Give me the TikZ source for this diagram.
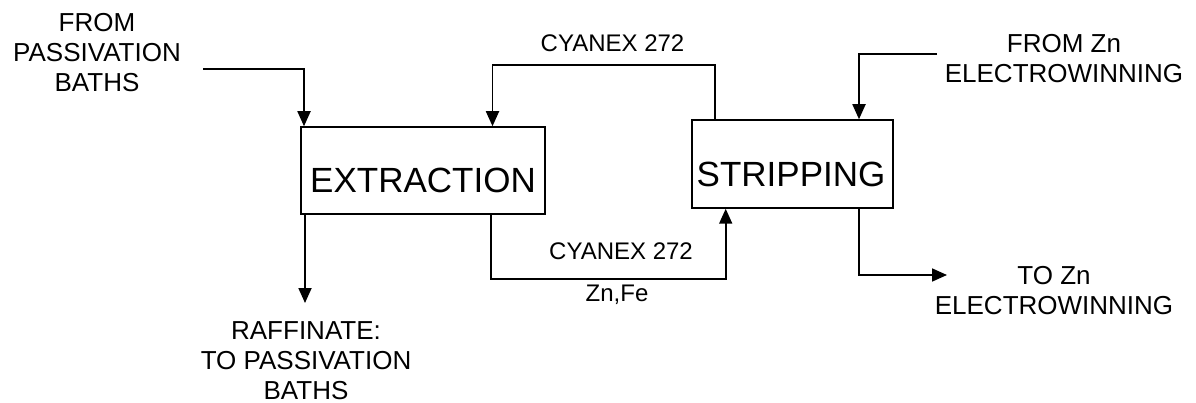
\documentclass[tikz,border=0pt]{standalone}
\usepackage{fontspec}
\setmainfont{Liberation Sans}
\usepackage{tikz}
\usetikzlibrary{arrows.meta,positioning,calc}
\tikzset{
    procbox/.style={draw, rectangle, line width=1.5pt, inner sep=0pt},
    flow/.style={line width=1.8pt, -{Triangle[length=15pt,width=13pt]}},
    bigtxt/.style={font=\fontsize{35}{42}\selectfont, inner sep=0pt, anchor=base},
    lbl/.style={font=\fontsize{26}{30}\selectfont, align=center, inner sep=0pt},
    smalllbl/.style={font=\fontsize{24}{28}\selectfont, inner sep=0pt, anchor=base}}
\begin{document}
\begin{tikzpicture}[x=1pt,y=-1pt]
\useasboundingbox (0,0) rectangle (1196,403);
\node[procbox, minimum width=244pt, minimum height=87pt] (ext) at (423,170.5) {};
\node[procbox, minimum width=201pt, minimum height=88pt] (strip) at (792.5,164) {};
\node[bigtxt] (exttxt) at (423,193) {EXTRACTION};
\node[bigtxt] (striptxt) at (791,187) {STRIPPING};

\node[lbl] (pasin) at (97,53) {FROM\\PASSIVATION\\BATHS};
\node[lbl] (raff) at (306,361) {RAFFINATE:\\TO PASSIVATION\\BATHS};
\node[lbl] (znin) at (1064,59) {FROM Zn\\ELECTROWINNING};
\node[lbl] (znout) at (1054,291) {TO Zn\\ELECTROWINNING};
\node[smalllbl] (cytop) at (612.5,51.7) {CYANEX 272};
\node[smalllbl] (cybot) at (621,260) {CYANEX 272};
\node[smalllbl] (znfe) at (617,301.7) {Zn,Fe};

\coordinate (pasend) at (203,69);
\coordinate (pasdown) at (304,69);
\draw[flow] (pasend) -- (pasdown) -- (pasdown |- ext.north);

\coordinate (cyR) at (715,65);
\coordinate (cyL) at (492.5,65);
\draw[flow] (cyR |- strip.north) -- (cyR) -- (cyL) -- (cyL |- ext.north);

\coordinate (rafftip) at (305,303);
\draw[flow] (rafftip |- ext.south) -- (rafftip);

\coordinate (lowL) at (491,279);
\coordinate (lowR) at (725.7,279);
\draw[flow] (lowL |- ext.south) -- (lowL) -- (lowR) -- (lowR |- strip.south);

\coordinate (znR) at (937,54);
\coordinate (znL) at (859,54);
\draw[flow] (znR) -- (znL) -- (znL |- strip.north);

\coordinate (outC) at (859,275);
\coordinate (outtip) at (947,275);
\draw[flow] (outC |- strip.south) -- (outC) -- (outtip);
\end{tikzpicture}
\end{document}
